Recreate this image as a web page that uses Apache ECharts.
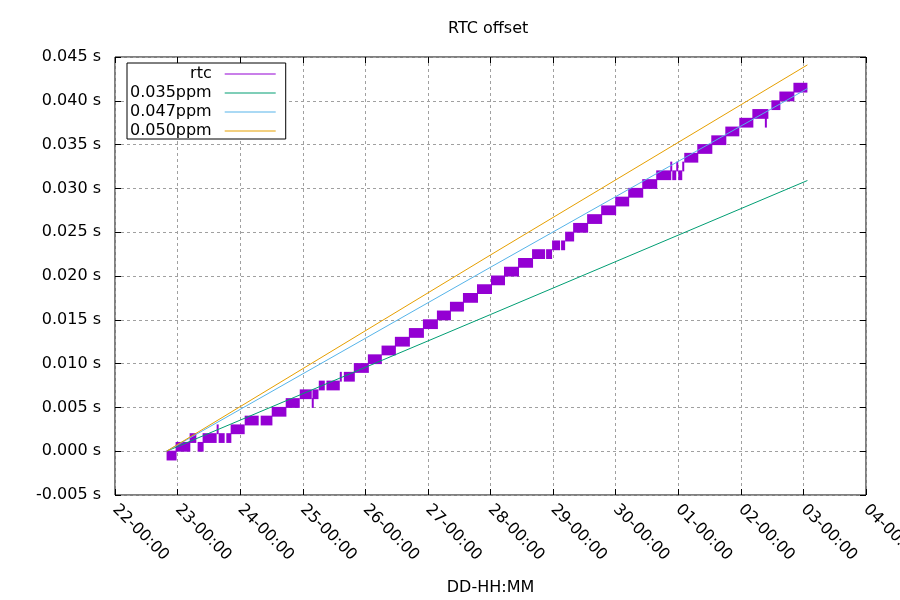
<!DOCTYPE html>
<html><head><meta charset="utf-8">
<script src="https://cdn.jsdelivr.net/npm/echarts@6/dist/echarts.min.js"></script>
<style>html,body{margin:0;padding:0;background:#fff}#c{width:900px;height:600px}</style>
</head><body><div id="c"></div>
<script>
const chartTitle = 'RTC offset';
const xAxisName = 'DD-HH:MM';
const seriesNames = ['rtc', '0.035ppm', '0.047ppm', '0.050ppm'];
const seriesColors = ['#9400d3', '#009e73', '#56b4e9', '#e69f00'];
const xStart = '2023-11-22 00:00';
const xEnd = '2023-12-04 00:00';
const yMin = -0.005, yMax = 0.045, yStep = 0.005;

// rtc readings: [from, to, level in ms] (the reading jitters between level and level+1 ms)
const rtcBlocks = [
  ['2023-11-22 19:47','2023-11-22 23:37',-1],
  ['2023-11-22 23:14','2023-11-23 04:53',0],
  ['2023-11-23 04:37','2023-11-23 07:11',1],
  ['2023-11-23 07:41','2023-11-23 09:59',0],
  ['2023-11-23 09:36','2023-11-23 14:59',1],
  ['2023-11-23 15:45','2023-11-23 18:03',1],
  ['2023-11-23 18:42','2023-11-23 20:37',1],
  ['2023-11-23 20:21','2023-11-24 01:44',2],
  ['2023-11-24 01:44','2023-11-24 07:06',3],
  ['2023-11-24 07:52','2023-11-24 12:22',3],
  ['2023-11-24 12:06','2023-11-24 17:44',4],
  ['2023-11-24 17:28','2023-11-24 22:51',5],
  ['2023-11-24 22:51','2023-11-25 03:27',6],
  ['2023-11-25 03:43','2023-11-25 06:02',6],
  ['2023-11-25 06:09','2023-11-25 08:27',7],
  ['2023-11-25 09:06','2023-11-25 14:12',7],
  ['2023-11-25 14:12','2023-11-25 14:59',8],
  ['2023-11-25 15:45','2023-11-25 19:58',8],
  ['2023-11-25 19:35','2023-11-26 01:21',9],
  ['2023-11-26 00:58','2023-11-26 06:20',10],
  ['2023-11-26 06:13','2023-11-26 11:43',11],
  ['2023-11-26 11:20','2023-11-26 17:05',12],
  ['2023-11-26 16:42','2023-11-26 22:28',13],
  ['2023-11-26 22:05','2023-11-27 03:50',14],
  ['2023-11-27 03:27','2023-11-27 08:50',15],
  ['2023-11-27 08:27','2023-11-27 13:49',16],
  ['2023-11-27 13:26','2023-11-27 19:12',17],
  ['2023-11-27 18:49','2023-11-28 00:35',18],
  ['2023-11-28 00:11','2023-11-28 05:34',19],
  ['2023-11-28 05:11','2023-11-28 10:56',20],
  ['2023-11-28 10:34','2023-11-28 16:19',21],
  ['2023-11-28 15:56','2023-11-28 20:56',22],
  ['2023-11-28 21:19','2023-11-28 23:37',22],
  ['2023-11-28 23:37','2023-11-29 02:41',23],
  ['2023-11-29 03:04','2023-11-29 04:37',23],
  ['2023-11-29 04:37','2023-11-29 08:04',24],
  ['2023-11-29 07:41','2023-11-29 13:26',25],
  ['2023-11-29 13:03','2023-11-29 18:49',26],
  ['2023-11-29 18:26','2023-11-30 00:11',27],
  ['2023-11-29 23:49','2023-11-30 05:11',28],
  ['2023-11-30 04:48','2023-11-30 10:34',29],
  ['2023-11-30 10:11','2023-11-30 15:56',30],
  ['2023-11-30 15:33','2023-11-30 21:19',31],
  ['2023-11-30 21:42','2023-11-30 23:14',31],
  ['2023-12-01 00:00','2023-12-01 01:32',31],
  ['2023-12-01 02:18','2023-12-01 07:41',33],
  ['2023-12-01 07:18','2023-12-01 13:04',34],
  ['2023-12-01 12:40','2023-12-01 18:26',35],
  ['2023-12-01 18:03','2023-12-01 23:25',36],
  ['2023-12-01 23:25','2023-12-02 04:48',37],
  ['2023-12-02 04:25','2023-12-02 10:34',38],
  ['2023-12-02 11:43','2023-12-02 15:10',39],
  ['2023-12-02 14:47','2023-12-02 20:32',40],
  ['2023-12-02 20:10','2023-12-03 01:32',41]
];
// single outlier readings: [time, from ms, to ms]
const rtcSpikes = [
  ['2023-11-23 15:22', 2, 3],
  ['2023-11-25 03:50', 5, 6],
  ['2023-11-30 21:19', 32, 33],
  ['2023-11-30 23:37', 32, 33],
  ['2023-12-01 01:55', 32, 33],
  ['2023-12-02 09:36', 37, 38]
];
const ppm035 = [['2023-11-22 19:47', 0.0000], ['2023-11-28 00:00', 0.0156], ['2023-12-03 01:32', 0.0309]];
const ppm047 = [['2023-11-22 19:47', 0.0000], ['2023-11-28 00:00', 0.0210], ['2023-12-03 01:32', 0.0414]];
const ppm050 = [['2023-11-22 19:47', 0.0000], ['2023-11-28 00:00', 0.0224], ['2023-12-03 01:32', 0.0441]];

function t(s) {
  const [d, h] = s.split(' ');
  const [Y, M, D] = d.split('-').map(Number);
  const [H, m] = h.split(':').map(Number);
  return Date.UTC(Y, M - 1, D, H, m);
}
const pad = n => String(n).padStart(2, '0');
const DAY = 86400000;
const FONT = 'DejaVu Sans';

const rtcData = rtcBlocks.map(b => [t(b[0]), t(b[1]), b[2] / 1000, (b[2] + 1) / 1000, 0])
  .concat(rtcSpikes.map(s => [t(s[0]), t(s[0]), s[1] / 1000, s[2] / 1000, 1]));
const lineData = arr => arr.map(p => [t(p[0]), p[1]]);

const chart = echarts.init(document.getElementById('c'), null, {renderer: 'canvas'});
const commonX = {
  type: 'value', min: t(xStart), max: t(xEnd), interval: DAY
};
const commonY = {
  type: 'value', min: yMin, max: yMax, interval: yStep
};
const tick = {show: true, inside: true, length: 6, lineStyle: {color: '#000', width: 1}};
const lineSeries = (i, arr) => ({
  name: seriesNames[i], type: 'line', symbol: 'none', data: lineData(arr),
  itemStyle: {color: seriesColors[i]},
  lineStyle: {width: 1, color: seriesColors[i]}
});
chart.setOption({
  animation: false,
  backgroundColor: '#fff',
  color: seriesColors,
  title: {
    text: chartTitle, left: 448, top: 21, padding: 0,
    textStyle: {fontFamily: FONT, fontSize: 16, fontWeight: 'normal', color: '#000'}
  },
  grid: {left: 115, right: 34, top: 57, bottom: 105, containLabel: false, outerBoundsMode: 'none',
    show: true, borderColor: '#000', borderWidth: 1, backgroundColor: 'transparent'},
  legend: {
    left: 127, top: 63, orient: 'vertical', align: 'right',
    padding: [3, 10, 0, 3], itemGap: 3, itemWidth: 51, itemHeight: 1,
    borderColor: '#000', borderWidth: 1, backgroundColor: '#fff',
    icon: 'rect',
    data: seriesNames.map((n, i) => ({name: n, itemStyle: {color: seriesColors[i]}})),
    formatter: n => '{a|' + n + '}',
    textStyle: {rich: {a: {width: 82, align: 'right', fontSize: 16, fontFamily: FONT, color: '#000', padding: [0, 8, 0, 0]}}}
  },
  xAxis: [
    Object.assign({}, commonX, {
      position: 'bottom',
      name: xAxisName, nameLocation: 'middle', nameGap: 85,
      nameTextStyle: {fontFamily: FONT, fontSize: 16, color: '#000'},
      axisLine: {show: false, onZero: false},
      axisTick: tick,
      axisLabel: {
        rotate: -45, margin: 12, fontFamily: FONT, fontSize: 16, color: '#000',
        showMinLabel: true, showMaxLabel: true,
        formatter: v => { const d = new Date(v); return pad(d.getUTCDate()) + '-' + pad(d.getUTCHours()) + ':' + pad(d.getUTCMinutes()); }
      },
      splitLine: {show: true, lineStyle: {color: '#a0a0a0', width: 1, type: [3, 3]}}
    }),
    Object.assign({}, commonX, {
      position: 'top', axisLine: {show: false, onZero: false}, axisTick: tick,
      axisLabel: {show: false}, splitLine: {show: false}
    })
  ],
  yAxis: [
    Object.assign({}, commonY, {
      position: 'left',
      axisLine: {show: false, onZero: false},
      axisTick: tick,
      axisLabel: {margin: 14, fontFamily: FONT, fontSize: 16, color: '#000', formatter: v => v.toFixed(3) + ' s'},
      splitLine: {show: true, lineStyle: {color: '#a0a0a0', width: 1, type: [3, 3]}}
    }),
    Object.assign({}, commonY, {
      position: 'right', axisLine: {show: false, onZero: false}, axisTick: tick,
      axisLabel: {show: false}, splitLine: {show: false}
    })
  ],
  series: [
    {
      name: seriesNames[0], type: 'custom', xAxisIndex: 0, yAxisIndex: 0,
      itemStyle: {color: seriesColors[0]},
      encode: {x: [0, 1], y: [2, 3]},
      data: rtcData,
      renderItem: (params, api) => {
        const a = api.coord([api.value(0), api.value(2)]);
        const b = api.coord([api.value(1), api.value(3)]);
        const spike = api.value(4) === 1;
        const x = spike ? a[0] - 1 : a[0];
        const w = spike ? 2 : Math.max(b[0] - a[0], 1);
        return {
          type: 'rect',
          shape: {x: x, y: b[1] - 0.5, width: w, height: a[1] - b[1] + 1},
          style: {fill: seriesColors[0]}
        };
      }
    },
    lineSeries(1, ppm035),
    lineSeries(2, ppm047),
    lineSeries(3, ppm050)
  ]
});
</script></body></html>
